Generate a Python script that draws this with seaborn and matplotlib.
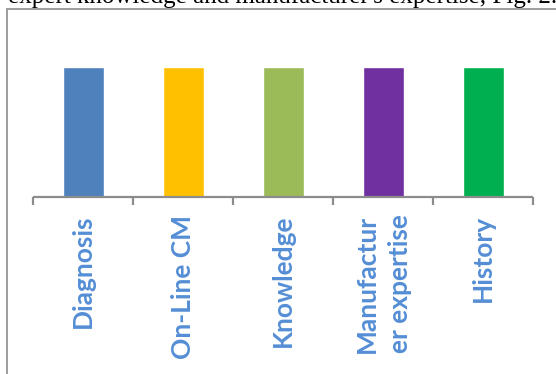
import matplotlib
matplotlib.use("Agg")
import matplotlib.pyplot as plt
from matplotlib.patches import Rectangle
from matplotlib.ticker import FixedLocator
import seaborn as sns
import pandas as pd

# Chart data
categories = ["Diagnosis", "On-Line CM", "Knowledge", "Manufactur\ner expertise", "History"]
values = [1, 1, 1, 1, 1]
bar_colors = ["#4F81BD", "#FFC000", "#9BBB59", "#7030A0", "#00B050"]
caption = "expert knowledge and manufacturer's expertise, Fig. 2."

W, H = 556, 374
DPI = 100
sns.set_theme(style="white")
plt.rcParams["font.family"] = ["Lato", "DejaVu Sans"]

fig = plt.figure(figsize=(W / DPI, H / DPI), dpi=DPI)
fig.patch.set_facecolor("white")

def fx(px):
    return px / W

def fy(py):
    return 1 - py / H

# axes: x from 33 to 533 px, bars from y=67 (top) to y=196.5 (baseline)
ax = fig.add_axes([fx(33), fy(196.5), fx(533) - fx(33), fy(67) - fy(196.5)])
ax.set_facecolor("none")

df = pd.DataFrame({"cat": categories, "val": values})
sns.barplot(data=df, x="cat", y="val", hue="cat", palette=bar_colors,
            order=categories, hue_order=categories, width=0.41,
            saturation=1, legend=False, ax=ax)

ax.set_xlim(-0.5, len(categories) - 0.5)
ax.set_ylim(0, max(values))
ax.set_xlabel("")
ax.set_ylabel("")
ax.set_yticks([])

for s in ["left", "right", "top"]:
    ax.spines[s].set_visible(False)
ax.spines["bottom"].set_color("#8C8C8C")
ax.spines["bottom"].set_linewidth(1.6)
ax.spines["bottom"].set_capstyle("butt")

# category labels (no major tick marks), divider ticks between categories
ax.set_xticks(range(len(categories)))
ax.set_xticklabels(categories, rotation=90, ha="center", va="top",
                   fontsize=19, fontweight="bold", color="#558ED5",
                   multialignment="center", linespacing=1.45)
ax.tick_params(axis="x", which="major", length=0, pad=13)
ax.xaxis.set_minor_locator(FixedLocator([i - 0.5 for i in range(len(categories) + 1)]))
ax.tick_params(axis="x", which="minor", bottom=True, length=5.5, width=1.6,
               color="#8C8C8C", direction="out")

# chart frame
frame = Rectangle((fx(6.5), 0 - 0.1), 1.2, fy(9) + 0.1, transform=fig.transFigure,
                  fill=False, edgecolor="#8C8C8C", linewidth=1.2, clip_on=False)
fig.patches.append(frame)

# caption line from the surrounding document
fig.text(fx(8), fy(3.5), caption, ha="left", va="baseline",
         fontsize=18, family=["Liberation Serif"], color="black")

fig.savefig("out.png", dpi=DPI, facecolor="white")
